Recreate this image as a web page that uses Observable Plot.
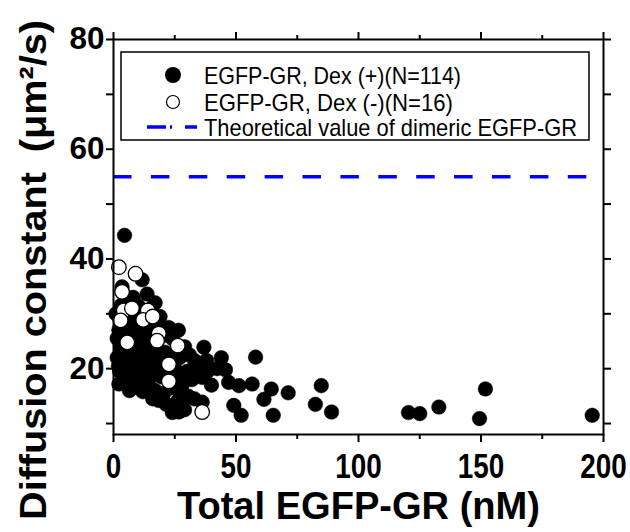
<!DOCTYPE html>
<html><head><meta charset="utf-8">
<script src="https://cdn.jsdelivr.net/npm/d3@7"></script>
<script src="https://cdn.jsdelivr.net/npm/@observablehq/plot@0.6"></script>
<style>body{margin:0;background:#fff} svg{display:block}</style>
</head><body><div id="chart"></div>
<script>
// Dex (+) : total EGFP-GR (nM), diffusion constant (um^2/s)
const dexPlusX = [4.5,11.7,3.5,13.7,6.9,9,2.2,15.1,36.9,58,42.3,45.7,38.2,36.2,51.2,56.6,64.4,71.3,61.4,49.1,52.1,65.2,84.8,82.4,89,36.2,120.4,125,132.8,151.8,149.4,195.4,26.7,18.5,9.7,2.2,34.1,28.7,27.3,33,
  1.5,2.5,3,4,5,5.5,6,7,7.5,8,8.5,9.5,10,10.5,11,11.5,12,12.5,13,13.5,14,14.5,15,16,16.5,17,17.5,18,19,19.5,20,20.5,21,22,23,23.5,24,25,25.5,26,27,28,29,30,30.5,31,32,33,1,3,6,10,1.5,4.5,8,12,15.5,19,2,6.5,12,16,21.5,24,29,40,44,38,47,26.5,22.5,17];
const dexPlusY = [44.3,36.2,34.9,33.6,32.2,29.4,27.0,27.6,23.9,22.1,20.0,19.8,19.4,18.4,16.9,17.2,16.3,15.6,14.4,13.3,11.5,11.5,16.9,13.5,12.1,13.9,12.0,11.8,13.0,16.3,10.9,11.5,12.1,14.2,16.6,17.2,20.3,19.1,15.4,14.5,
  22,19.5,24,21,18.5,26.5,23,20,28,17.5,25,22,19.5,27,24,21,18,30.5,26,23,20,17,24.5,22,19,16,28,23.5,21,18.5,26,15.5,23,19.5,22.5,16.5,25.5,20,18,14,22,17,24,19.5,15,22.5,18,21.5,30,31.5,29,31.5,25.5,27.5,33,26.5,31,29.5,20.5,16,15.8,14.5,13.5,12,12.5,17,22,21.5,17.5,27,27.5,32];
// Dex (-)
const dexMinusX = [2.2,9,3.5,4.2,14,2.9,12.1,18.5,5.6,17.8,26.2,22.6,22.6,36.2,7.5,16];
const dexMinusY = [38.5,37.3,34.0,30.6,30.6,28.8,28.9,26.4,24.8,25.1,24.2,20.8,17.7,12.1,31,29.5];
const theoreticalValue = [55];
const xMajor = [0,50,100,150,200];
const xMinor = [25,75,125,175];
const yMajor = [20,40,60,80];
const yMinor = [10,30,50,70];
const xTitle = "Total EGFP-GR (nM)";
const yTitle = "Diffusion constant\u2002(\u03bcm\u00b2/s)";
const legendLabels = ["EGFP-GR, Dex (+)(N=114)", "EGFP-GR, Dex (-)(N=16)", "Theoretical value of dimeric EGFP-GR"];

const FONT = "'Liberation Sans',Arial,sans-serif";
const plus = dexPlusX.map((x, i) => ({x, y: dexPlusY[i]}));
const minus = dexMinusX.map((x, i) => ({x, y: dexMinusY[i]}));
const blank = () => "";

const chart = Plot.plot({
  width: 630, height: 532,
  marginLeft: 113, marginRight: 27, marginTop: 39, marginBottom: 98,
  style: {fontFamily: FONT, background: "white", color: "black", overflow: "visible"},
  x: {domain: [0, 200]},
  y: {domain: [8, 80]},
  marks: [
    Plot.ruleY(theoreticalValue, {stroke: "#0000ff", strokeWidth: 3.5, strokeDasharray: "18.5,19.4"}),
    Plot.dot(plus, {x: "x", y: "y", r: 7.3, fill: "black", stroke: "black", strokeWidth: 0.5}),
    Plot.dot(minus, {x: "x", y: "y", r: 7.3, fill: "white", stroke: "black", strokeWidth: 1.3}),
    Plot.axisX(xMajor, {anchor: "bottom", tickSize: 8, tickPadding: 11, strokeWidth: 2, label: null, tickFormat: d => d, fontSize: 35, fontWeight: "bold"}),
    Plot.axisX(xMinor, {anchor: "bottom", tickSize: 5, strokeWidth: 2, label: null, tickFormat: blank}),
    Plot.axisX(xMajor, {anchor: "top", tickSize: 8, strokeWidth: 2, label: null, tickFormat: blank}),
    Plot.axisX(xMinor, {anchor: "top", tickSize: 5, strokeWidth: 2, label: null, tickFormat: blank}),
    Plot.axisY(yMajor, {anchor: "left", tickSize: 7, tickPadding: 2, strokeWidth: 2, label: null, tickFormat: d => d, fontSize: 31, fontWeight: "bold"}),
    Plot.axisY(yMinor, {anchor: "left", tickSize: 7, strokeWidth: 2, label: null, tickFormat: blank}),
    Plot.axisY(yMajor, {anchor: "right", tickSize: 7, strokeWidth: 2, label: null, tickFormat: blank}),
    Plot.axisY(yMinor, {anchor: "right", tickSize: 7, strokeWidth: 2, label: null, tickFormat: blank}),
    Plot.frame({stroke: "black", strokeWidth: 2}),
    Plot.text([xTitle], {frameAnchor: "bottom", dy: 84, textAnchor: "middle", text: d => d, fontSize: 39, fontWeight: "bold"}),
    Plot.text([yTitle], {frameAnchor: "left", dx: -79, dy: 33, rotate: -90, textAnchor: "middle", text: d => d, fontSize: 37, fontWeight: "bold"})
  ]
});
document.getElementById("chart").appendChild(chart);

const svg = d3.select(chart);
// condensed glyphs like the reference's narrow gothic face
function squeeze(sel, perChar) {
  sel.each(function () {
    const n = this.textContent.length;
    d3.select(this).attr("textLength", n * perChar).attr("lengthAdjust", "spacingAndGlyphs");
  });
}
squeeze(svg.selectAll('g[aria-label="x-axis tick label"] text'), 15.5);
squeeze(svg.selectAll('g[aria-label="y-axis tick label"] text'), 17.5);
svg.selectAll("text").filter(function () { return this.textContent === xTitle; })
  .attr("textLength", 363).attr("lengthAdjust", "spacingAndGlyphs");
svg.selectAll("text").filter(function () { return this.textContent === yTitle; })
  .attr("textLength", 500).attr("lengthAdjust", "spacingAndGlyphs");

// legend box
const g = svg.append("g").attr("font-family", FONT).attr("font-size", 24).attr("text-anchor", "start");
g.append("rect").attr("x", 121).attr("y", 52).attr("width", 468).attr("height", 88)
  .attr("fill", "white").attr("stroke", "black").attr("stroke-width", 1.5);
const rowY = [75, 102, 127];
const legendWidths = [257, 249, 373];
g.append("circle").attr("cx", 173).attr("cy", rowY[0]).attr("r", 8).attr("fill", "black");
g.append("circle").attr("cx", 173).attr("cy", rowY[1]).attr("r", 6.5).attr("fill", "white").attr("stroke", "black").attr("stroke-width", 1.2);
g.append("line").attr("x1", 147).attr("x2", 197).attr("y1", rowY[2]).attr("y2", rowY[2])
  .attr("stroke", "#0000ff").attr("stroke-width", 3.5).attr("stroke-dasharray", "19,4,2,13,12");
legendLabels.forEach((t, i) => {
  g.append("text").attr("x", 204).attr("y", rowY[i]).attr("dy", "0.36em").attr("fill", "black")
    .attr("text-anchor", "start").attr("textLength", legendWidths[i]).attr("lengthAdjust", "spacingAndGlyphs").text(t);
});
</script>
</body></html>
